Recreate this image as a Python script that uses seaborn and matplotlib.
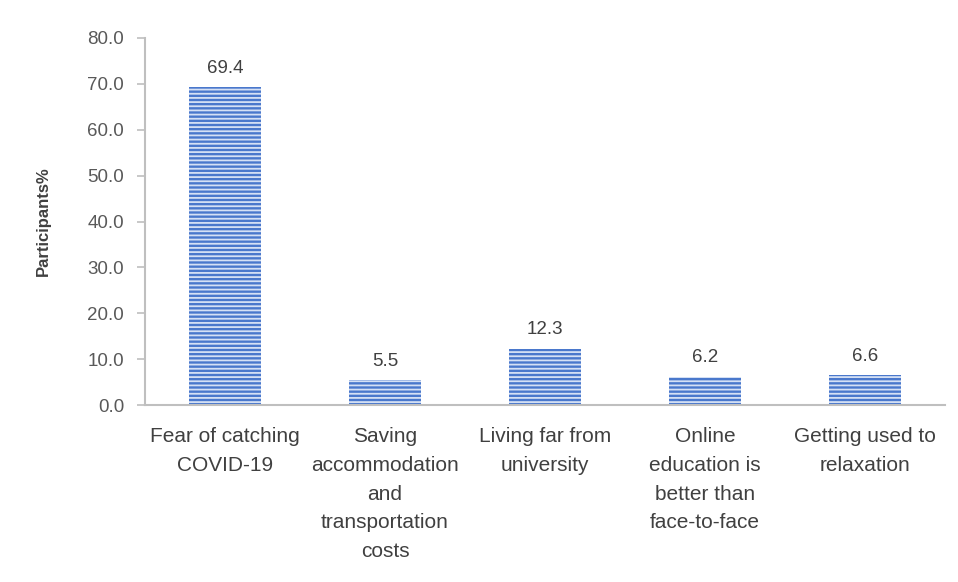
import matplotlib
matplotlib.use("Agg")
import matplotlib.pyplot as plt
import seaborn as sns
import pandas as pd

categories = ["Fear of catching\nCOVID-19",
              "Saving\naccommodation\nand\ntransportation\ncosts",
              "Living far from\nuniversity",
              "Online\neducation is\nbetter than\nface-to-face",
              "Getting used to\nrelaxation"]
values = [69.4, 5.5, 12.3, 6.2, 6.6]
yticks = [0, 10, 20, 30, 40, 50, 60, 70, 80]

sns.set_style("white")
plt.rcParams['font.family'] = ['Liberation Sans', 'DejaVu Sans']
plt.rcParams['hatch.linewidth'] = 1.3

df = pd.DataFrame({"cat": categories, "val": values})
fig = plt.figure(figsize=(9.58, 5.82), dpi=100)
ax = fig.add_axes([145/958, 1-405/582, 800/958, (405-38)/582])
sns.barplot(data=df, x="cat", y="val", ax=ax, width=0.45, color="#4a78cc",
            saturation=1)
for p in ax.patches:
    p.set_facecolor("#4a78cc")
    p.set_edgecolor("#d6e1f5")
    p.set_hatch("----")
    p.set_linewidth(0)

for i, v in enumerate(values):
    ax.text(i, v + 2.2, f"{v:.1f}", ha="center", va="bottom", fontsize=13.5, color="#404040")

ax.set_ylim(0, 80)
ax.set_yticks(yticks)
ax.set_yticklabels([f"{t:.1f}" for t in yticks], fontsize=13.5, color="#595959")
ax.tick_params(axis="x", labelsize=15, colors="#404040", pad=16, length=0)
for lbl in ax.get_xticklabels():
    lbl.set_linespacing(1.65)
ax.tick_params(axis="y", length=6, color="#bfbfbf", width=1.2, pad=9, left=True)
ax.set_xlabel("")
ax.set_ylabel("Participants%", fontsize=12, fontweight="bold", color="#404040", labelpad=26)
for s in ["top", "right"]:
    ax.spines[s].set_visible(False)
for s in ["left", "bottom"]:
    ax.spines[s].set_color("#bfbfbf")
    ax.spines[s].set_linewidth(1.5)
ax.set_xlim(-0.5, 4.5)

fig.savefig("out.png", dpi=100)
